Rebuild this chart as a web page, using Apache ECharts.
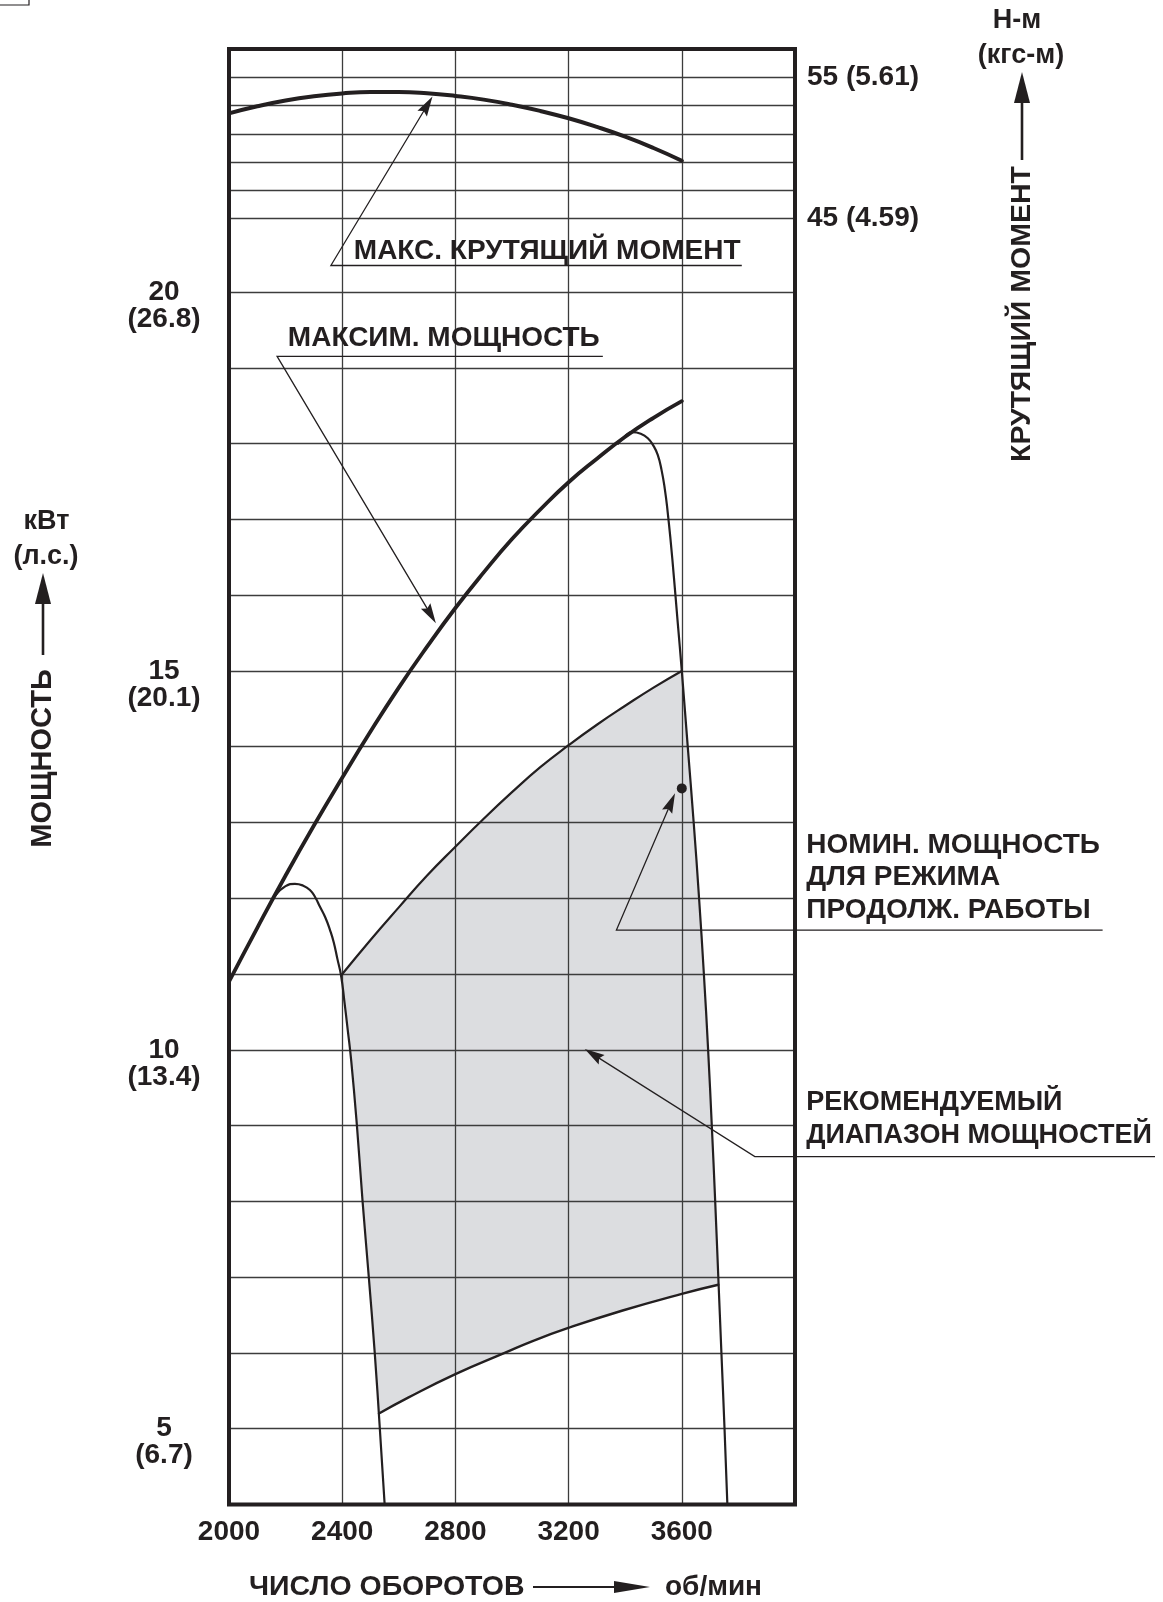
<!DOCTYPE html>
<html>
<head>
<meta charset="utf-8">
<script src="https://cdn.jsdelivr.net/npm/echarts@6/dist/echarts.min.js"></script>
<style>
html,body{margin:0;padding:0;background:#ffffff;}
#c{width:1163px;height:1602px;}
</style>
</head>
<body>
<div id="c"></div>
<script>
// ---------- data ----------
const rpmTicks = [2000, 2400, 2800, 3200, 3600];
const powerTicks = [5, 10, 15, 20];
const powerHp = ['6.7', '13.4', '20.1', '26.8'];
const torqueTicks = [55, 45];
const torqueKgfm = ['5.61', '4.59'];

// max torque, N-m
const torqueRpm = [2000, 2100, 2200, 2300, 2400, 2500, 2600, 2700, 2800, 2900, 3000, 3100, 3200, 3300, 3400, 3500, 3600];
const torqueNm  = [52.45, 52.95, 53.36, 53.66, 53.86, 53.96, 53.96, 53.87, 53.68, 53.42, 53.06, 52.62, 52.1, 51.49, 50.8, 50.0, 49.1];

// max power, kW
const maxPowerRpm = [2000, 2100, 2200, 2300, 2400, 2500, 2600, 2700, 2800, 2900, 3000, 3100, 3200, 3300, 3400, 3500, 3600];
const maxPowerKw  = [10.9, 11.61, 12.3, 12.96, 13.59, 14.2, 14.78, 15.32, 15.83, 16.3, 16.74, 17.13, 17.49, 17.8, 18.09, 18.34, 18.56];

// governor curve, low speed
const govARpm = [2162, 2200, 2233, 2260, 2286, 2305, 2321, 2340, 2357, 2370, 2383, 2396, 2408, 2419, 2432, 2452, 2472, 2494, 2515, 2533, 2550];
const govAKw  = [12.03, 12.16, 12.19, 12.17, 12.11, 12.01, 11.89, 11.75, 11.58, 11.42, 11.2, 10.98, 10.63, 10.28, 9.85, 9.0, 8.0, 7.0, 6.0, 5.0, 4.0];

// governor curve, high speed
const govBRpm = [3375, 3400, 3425, 3455, 3480, 3500, 3515, 3528, 3540, 3550, 3561, 3572, 3586, 3600, 3621, 3642, 3661, 3678, 3693, 3706, 3718, 3729, 3740, 3751, 3761];
const govBKw  = [18.0, 18.1, 18.15, 18.13, 18.07, 17.97, 17.85, 17.66, 17.4, 17.1, 16.7, 16.24, 15.62, 15.0, 14.0, 13.0, 12.0, 11.0, 10.0, 9.0, 8.0, 7.0, 6.0, 5.0, 4.0];

// recommended range: upper and lower limits
const upperRpm = [2396, 2500, 2600, 2700, 2800, 2900, 3000, 3100, 3200, 3300, 3400, 3500, 3600];
const upperKw  = [10.98, 11.45, 11.88, 12.3, 12.68, 13.05, 13.4, 13.73, 14.02, 14.29, 14.54, 14.78, 15.0];
const lowerRpm = [2530, 2633, 2800, 2974, 3075, 3199, 3391, 3600, 3729];
const lowerKw  = [5.2, 5.41, 5.72, 6.0, 6.16, 6.33, 6.56, 6.78, 6.9];

// rated continuous power point
const ratedPoint = [3600, 13.45];

// annotation texts and their leaders (in rpm / kW units of the full plot)
const noteTexts = [
  'МАКС. КРУТЯЩИЙ МОМЕНТ',
  'МАКСИМ. МОЩНОСТЬ',
  'НОМИН. МОЩНОСТЬ\nДЛЯ РЕЖИМА\nПРОДОЛЖ. РАБОТЫ',
  'РЕКОМЕНДУЕМЫЙ\nДИАПАЗОН МОЩНОСТЕЙ'
];
const noteAnchors = [[2441, 20.544], [2208, 19.393], [4040, 12.275], [4040, 9.087]];
const noteLeaders = [
  [[3812, 20.35], [2360, 20.35], [2719, 22.58]],
  [[3321, 19.15], [2170, 19.15], [2731, 15.63]],
  [[5087, 11.58], [3369, 11.58], [3576, 13.385]],
  [[5272, 8.59], [3858, 8.59], [3257, 10.01]]
];

// ---------- styling ----------
const INK = '#231f20';
const FAM = '"Liberation Sans", Arial, Helvetica, sans-serif';
const FS = 28;
const NOTE_FS = [28, 28, 28, 27];
const GRIDLINE = {color: '#3c3c3c', width: 1.3};
const FILL = '#dcdde0';

function zip(a, b) { return a.map((v, i) => [v, b[i]]); }

function shadePolygon() {
  const pts = [];
  for (let i = 0; i < upperRpm.length; i++) pts.push([upperRpm[i], upperKw[i]]);
  const topK = upperKw[upperKw.length - 1];
  const lowK = lowerKw[lowerKw.length - 1];
  for (let i = 0; i < govBRpm.length; i++) {
    if (govBKw[i] < topK && govBKw[i] > lowK) pts.push([govBRpm[i], govBKw[i]]);
  }
  for (let i = lowerRpm.length - 1; i >= 0; i--) pts.push([lowerRpm[i], lowerKw[i]]);
  for (let i = govARpm.length - 1; i >= 0; i--) {
    if (govAKw[i] > lowerKw[0] && govAKw[i] < upperKw[0]) pts.push([govARpm[i], govAKw[i]]);
  }
  return pts;
}

const chart = echarts.init(document.getElementById('c'), null, {renderer: 'canvas'});

const labelFont = {fontFamily: FAM, fontSize: FS, fontWeight: 'bold', color: INK};

function curve(name, xs, ys, width, xi, yi) {
  return {
    name: name, type: 'line', xAxisIndex: xi, yAxisIndex: yi,
    data: zip(xs, ys), smooth: 0.5, showSymbol: false, symbol: 'none',
    lineStyle: {color: INK, width: width, cap: 'round', join: 'round'},
    z: 5, silent: true
  };
}

function txt(text, x, y, opts) {
  opts = opts || {};
  return {
    type: 'text', x: x, y: y, rotation: opts.rot || 0, z: 20,
    style: {
      text: text, fill: INK,
      font: 'bold ' + (opts.fs || 27) + 'px ' + FAM,
      align: opts.align || 'center', verticalAlign: 'middle',
      textAlign: opts.align || 'center', textVerticalAlign: 'middle'
    }
  };
}

const option = {
  animation: false,
  backgroundColor: '#ffffff',
  grid: [
    {left: 229, top: 49, width: 566, height: 1455.5, show: true, borderColor: INK, borderWidth: 4, backgroundColor: 'transparent', z: 10},
    {left: 229, top: 292, width: 566, height: 1212.5, show: false},
    {left: 229, top: 49, width: 566, height: 169.7, show: false}
  ],
  xAxis: [
    {
      gridIndex: 0, type: 'value', min: 2000, max: 4000, interval: 400, z: 3,
      axisLine: {show: false}, axisTick: {show: false},
      splitLine: {show: true, lineStyle: GRIDLINE},
      axisLabel: Object.assign({margin: 14, formatter: v => rpmTicks.indexOf(v) >= 0 ? String(v) : ''}, labelFont)
    },
    {gridIndex: 1, type: 'value', min: 2000, max: 4000, show: false},
    {gridIndex: 2, type: 'value', min: 2000, max: 4000, show: false}
  ],
  yAxis: [
    {gridIndex: 0, type: 'value', min: 4, max: 23.207, show: false},
    {
      gridIndex: 1, type: 'value', min: 4, max: 20, interval: 1, position: 'left', z: 3,
      axisLine: {show: false}, axisTick: {show: false},
      splitLine: {show: true, lineStyle: GRIDLINE},
      axisLabel: Object.assign({
        margin: 65, align: 'center', lineHeight: 27,
        formatter: v => {
          const i = powerTicks.indexOf(v);
          return i < 0 ? '' : ' \n' + v + '\n(' + powerHp[i] + ')';
        }
      }, labelFont)
    },
    {
      gridIndex: 2, type: 'value', min: 45, max: 57, interval: 2, position: 'right', z: 3,
      axisLine: {show: false}, axisTick: {show: false},
      splitLine: {show: true, lineStyle: GRIDLINE},
      axisLabel: Object.assign({
        margin: 12, align: 'left',
        formatter: v => {
          const i = torqueTicks.indexOf(v);
          return i < 0 ? '' : v + ' (' + torqueKgfm[i] + ')';
        }
      }, labelFont)
    }
  ],
  series: [
    {
      name: 'range', type: 'custom', xAxisIndex: 0, yAxisIndex: 0, z: 1, silent: true,
      data: [[upperRpm[0], upperKw[0]]],
      renderItem: function (params, api) {
        const pts = shadePolygon().map(p => api.coord(p));
        return {type: 'polygon', shape: {points: pts, smooth: 0}, style: {fill: FILL, stroke: null}};
      }
    },
    curve('torque', torqueRpm, torqueNm, 4, 2, 2),
    curve('maxPower', maxPowerRpm, maxPowerKw, 3.8, 0, 0),
    curve('govA', govARpm, govAKw, 2.2, 0, 0),
    curve('govB', govBRpm, govBKw, 2.2, 0, 0),
    curve('upper', upperRpm, upperKw, 2.2, 0, 0),
    curve('lower', lowerRpm, lowerKw, 2.4, 0, 0),
    {
      name: 'rated', type: 'scatter', xAxisIndex: 0, yAxisIndex: 0, z: 6, silent: true,
      data: [ratedPoint], symbol: 'circle', symbolSize: 10, itemStyle: {color: INK, opacity: 1}
    },
    {
      name: 'notes', type: 'custom', xAxisIndex: 0, yAxisIndex: 0, z: 6, silent: true, clip: false,
      data: noteAnchors,
      renderItem: function (params, api) {
        const k = params.dataIndex;
        const pts = noteLeaders[k].map(p => api.coord(p));
        const tip = pts[pts.length - 1], prev = pts[pts.length - 2];
        const dx = tip[0] - prev[0], dy = tip[1] - prev[1];
        const len = Math.sqrt(dx * dx + dy * dy);
        const ux = dx / len, uy = dy / len;
        const L = 20, W = 5.5;
        const bx = tip[0] - ux * L, by = tip[1] - uy * L;
        const head = [tip, [bx - uy * W, by + ux * W], [tip[0] - ux * L * 0.85, tip[1] - uy * L * 0.85], [bx + uy * W, by - ux * W]];
        const shaft = pts.slice(0, -1).concat([[tip[0] - ux * L * 0.8, tip[1] - uy * L * 0.8]]);
        const a = api.coord(noteAnchors[k]);
        return {
          type: 'group',
          children: [
            {type: 'polyline', shape: {points: shaft}, style: {stroke: INK, lineWidth: 1.3, fill: null}},
            {type: 'polygon', shape: {points: head}, style: {fill: INK, stroke: null}},
            {type: 'text', x: a[0], y: a[1], style: {
              text: noteTexts[k], fill: INK, font: 'bold ' + NOTE_FS[k] + 'px ' + FAM,
              align: 'left', verticalAlign: 'middle', lineHeight: 32.5
            }}
          ]
        };
      }
    }
  ],
  graphic: [
    // stray corner box of the original scan
    {type: 'polyline', z: 20, shape: {points: [[0, 5], [29, 5], [29, 0]]}, style: {stroke: INK, lineWidth: 1.2, fill: null}},
    // left axis title
    txt('кВт', 46.5, 522),
    txt('(л.с.)', 46, 557),
    {type: 'line', z: 20, shape: {x1: 43, y1: 655, x2: 43, y2: 598}, style: {stroke: INK, lineWidth: 2.6}},
    {type: 'polygon', z: 20, shape: {points: [[43, 573], [35, 604], [51, 604]]}, style: {fill: INK}},
    txt('МОЩНОСТЬ', 42.5, 758.5, {rot: Math.PI / 2, fs: 29}),
    // right axis title
    txt('Н-м', 1017, 21),
    txt('(кгс-м)', 1021, 56),
    {type: 'line', z: 20, shape: {x1: 1022, y1: 160, x2: 1022, y2: 98}, style: {stroke: INK, lineWidth: 2.6}},
    {type: 'polygon', z: 20, shape: {points: [[1022, 72], [1014, 103], [1030, 103]]}, style: {fill: INK}},
    txt('КРУТЯЩИЙ МОМЕНТ', 1022.5, 314, {rot: Math.PI / 2, fs: 28.5}),
    // bottom axis title
    txt('ЧИСЛО ОБОРОТОВ', 249, 1587, {align: 'left', fs: 28.5}),
    {type: 'line', z: 20, shape: {x1: 533, y1: 1587, x2: 625, y2: 1587}, style: {stroke: INK, lineWidth: 2}},
    {type: 'polygon', z: 20, shape: {points: [[650, 1587], [614, 1581], [614, 1593]]}, style: {fill: INK}},
    txt('об/мин', 665, 1587, {align: 'left', fs: 28})
  ]
};

chart.setOption(option);
</script>
</body>
</html>
